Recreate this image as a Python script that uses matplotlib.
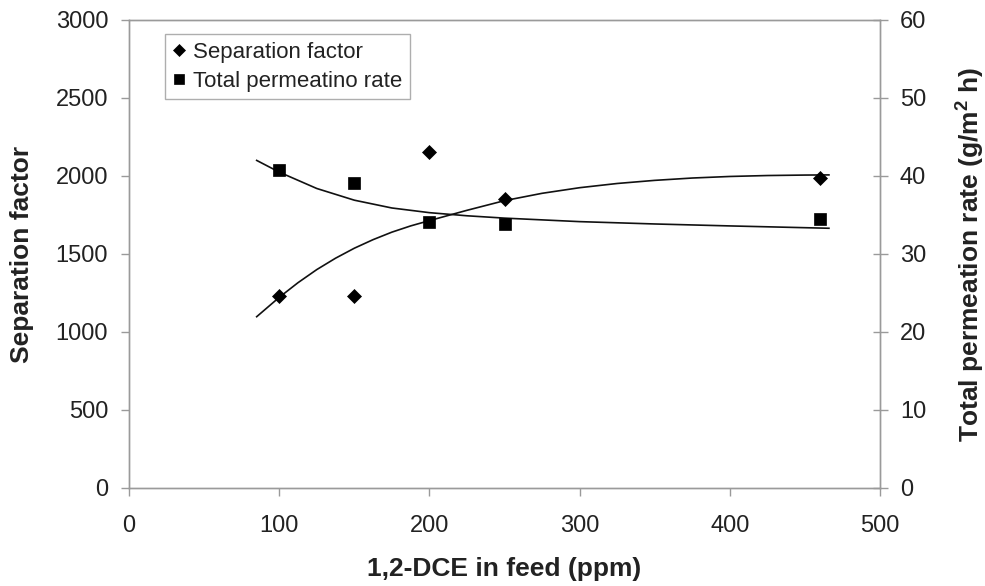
import matplotlib
matplotlib.use("Agg")
import matplotlib.pyplot as plt

plt.rcParams['font.family'] = ['Liberation Sans', 'DejaVu Sans']
plt.rcParams['mathtext.fontset'] = 'custom'
plt.rcParams['mathtext.rm'] = 'Liberation Sans:bold'
plt.rcParams['mathtext.bf'] = 'Liberation Sans:bold'

# Data
feed_ppm = [100, 150, 200, 250, 460]
separation_factor = [1230, 1230, 2155, 1850, 1990]
permeation_rate = [40.8, 39.1, 34.1, 33.9, 34.5]

# Trendlines
sep_trend_x = [85, 100, 112.5, 125, 137.5, 150, 162.5, 175, 187.5, 200, 225, 250,
               275, 300, 325, 350, 375, 400, 425, 450, 466]
sep_trend_y = [1098, 1222, 1316, 1400, 1473, 1537, 1592, 1640, 1680, 1714, 1780, 1842,
               1889, 1925, 1952, 1972, 1987, 1997, 2003, 2006, 2007]
perm_trend_x = [85, 100, 125, 150, 175, 200, 225, 250, 300, 350, 400, 466]
perm_trend_y = [42.0, 40.5, 38.4, 36.9, 35.9, 35.3, 34.9, 34.6, 34.15, 33.85, 33.6, 33.3]

x_ticks = [0, 100, 200, 300, 400, 500]
left_ticks = [0, 500, 1000, 1500, 2000, 2500, 3000]
right_ticks = [0, 10, 20, 30, 40, 50, 60]

W, H = 985, 586
fig = plt.figure(figsize=(W / 100, H / 100), dpi=100)
ax = fig.add_axes([129 / W, 1 - 488 / H, (880 - 129) / W, (488 - 20) / H])
ax2 = ax.twinx()

grey = '#9a9a9a'
txt = '#222222'

ax.plot(sep_trend_x, sep_trend_y, color='#111111', lw=1.2, zorder=2)
l1, = ax.plot(feed_ppm, separation_factor, linestyle='none', marker='D', ms=6.8,
              color='black', mew=0.5, zorder=3, label='Separation factor')
ax2.plot(perm_trend_x, perm_trend_y, color='#111111', lw=1.2, zorder=2)
l2, = ax2.plot(feed_ppm, permeation_rate, linestyle='none', marker='s', ms=9.2,
               color='black', mew=0.5, zorder=3, label='Total permeatino rate')

ax.set_xlim(0, 500)
ax.set_ylim(0, 3000)
ax2.set_ylim(0, 60)
ax.set_xticks(x_ticks)
ax.set_yticks(left_ticks)
ax2.set_yticks(right_ticks)

for a in (ax, ax2):
    for s in a.spines.values():
        s.set_color(grey)
        s.set_linewidth(1.0)

fs = 17
ax.tick_params(axis='x', direction='out', length=5.8, width=1.0, color=grey,
               labelsize=fs, labelcolor=txt, pad=14)
ax.tick_params(axis='y', direction='out', length=5.5, width=1.0, color=grey,
               labelsize=fs, labelcolor=txt, pad=9.5)
ax2.tick_params(axis='y', direction='inout', length=10.8, width=1.0, color=grey,
                labelsize=fs, labelcolor=txt, pad=9)

lab = dict(fontsize=19, fontweight='bold', color=txt)
ax.set_xlabel('1,2-DCE in feed (ppm)', **lab)
ax.xaxis.set_label_coords(0.5, (488 - 569) / 468)
ax.xaxis.label.set_verticalalignment('center')
ax.set_ylabel('Separation factor', **lab)
ax.yaxis.set_label_coords((22 - 129) / 751, 0.5)
ax.yaxis.label.set_verticalalignment('center')
ax2.set_ylabel(r'Total permeation rate (g/m$^{2}$ h)', rotation=90, **lab)
ax2.yaxis.set_label_coords((970 - 129) / 751, 0.5)
ax2.yaxis.label.set_verticalalignment('center')

leg = ax2.legend(handles=[l1, l2], loc='upper left', bbox_to_anchor=(0.048, 0.970),
                 borderaxespad=0, fontsize=16, frameon=True, fancybox=False,
                 handlelength=0.6, handletextpad=0.3, borderpad=0.35,
                 labelspacing=0.35, markerscale=0.85)
leg.get_frame().set_edgecolor(grey)
leg.get_frame().set_linewidth(1.0)
for t in leg.get_texts():
    t.set_color(txt)

fig.savefig('out.png', dpi=100)
